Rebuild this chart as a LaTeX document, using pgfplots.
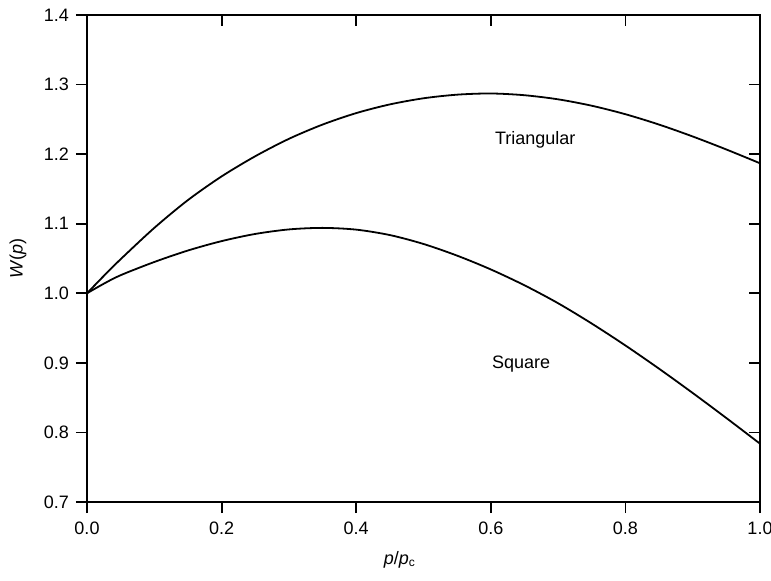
\documentclass[border=0pt]{standalone}
\usepackage{pgfplots}
\pgfplotsset{compat=1.18}
\usepackage{fontspec}
\setmainfont{Liberation Sans}
\begin{document}
\begin{tikzpicture}
\pgfplotsset{
  common/.style={
    at={(0,0)}, anchor=south west,
    scale only axis, width=336.5pt, height=243.5pt,
    xmin=0, xmax=1, ymin=0.7, ymax=1.4,
    xtick={0,0.2,...,1.0}, ytick={0.7,0.8,...,1.4},
    major tick length=5.5pt,
    axis line style={line width=0.9pt},
    every tick/.style={line width=0.9pt, black},
    /pgf/number format/.cd, fixed, fixed zerofill, precision=1, assume math mode=true,
  }
}
\begin{axis}[common,
  tick align=outside, xtick pos=left, ytick pos=left,
  ticklabel style={font=\fontsize{9}{10}\selectfont},
  xticklabel style={yshift=-1pt},
  xlabel={\textit{p}/\textit{p}\textsubscript{c}},
  ylabel={\textit{W}(\textit{p})},
  every axis x label/.style={at={(axis description cs:0.465,-0.119)}, anchor=center, font=\fontsize{9}{10}\selectfont},
  every axis y label/.style={at={(axis description cs:-0.1025,0.5)}, anchor=center, rotate=90, font=\fontsize{9}{10}\selectfont},
]
% Triangular
\addplot[black, line width=0.9pt, smooth] coordinates {
(0,1.0000) (0.025,1.0250) (0.05,1.0490) (0.10,1.0940) (0.15,1.1340) (0.20,1.1680)
(0.25,1.1970) (0.30,1.2220) (0.35,1.2425) (0.40,1.2590) (0.45,1.2715)
(0.50,1.2803) (0.55,1.2855) (0.60,1.2872) (0.65,1.2847) (0.70,1.2788)
(0.75,1.2696) (0.80,1.2574) (0.85,1.2425) (0.90,1.2254) (0.95,1.2067)
(1.00,1.1869)
};
% Square
\addplot[black, line width=0.9pt, smooth] coordinates {
(0,1.0000) (0.025,1.0138) (0.05,1.0260) (0.10,1.0450) (0.15,1.0615) (0.20,1.0750)
(0.25,1.0853) (0.30,1.0918) (0.35,1.0940) (0.40,1.0915) (0.45,1.0837)
(0.50,1.0709) (0.55,1.0541) (0.60,1.0343) (0.65,1.0115) (0.70,0.9857)
(0.75,0.9565) (0.80,0.9250) (0.85,0.8916) (0.90,0.8567) (0.95,0.8207)
(1.00,0.7838)
};
\node[font=\fontsize{9}{10}\selectfont] at (axis cs:0.666,1.220) {Triangular};
\node[font=\fontsize{9}{10}\selectfont] at (axis cs:0.645,0.8976) {Square};
\end{axis}
\begin{axis}[common,
  tick align=inside, xtick pos=right, ytick pos=right,
  xticklabels={}, yticklabels={},
]
\end{axis}
\pgfresetboundingbox
\path[use as bounding box] (-43.5pt,-39pt) rectangle (342pt,251pt);
\end{tikzpicture}
\end{document}
